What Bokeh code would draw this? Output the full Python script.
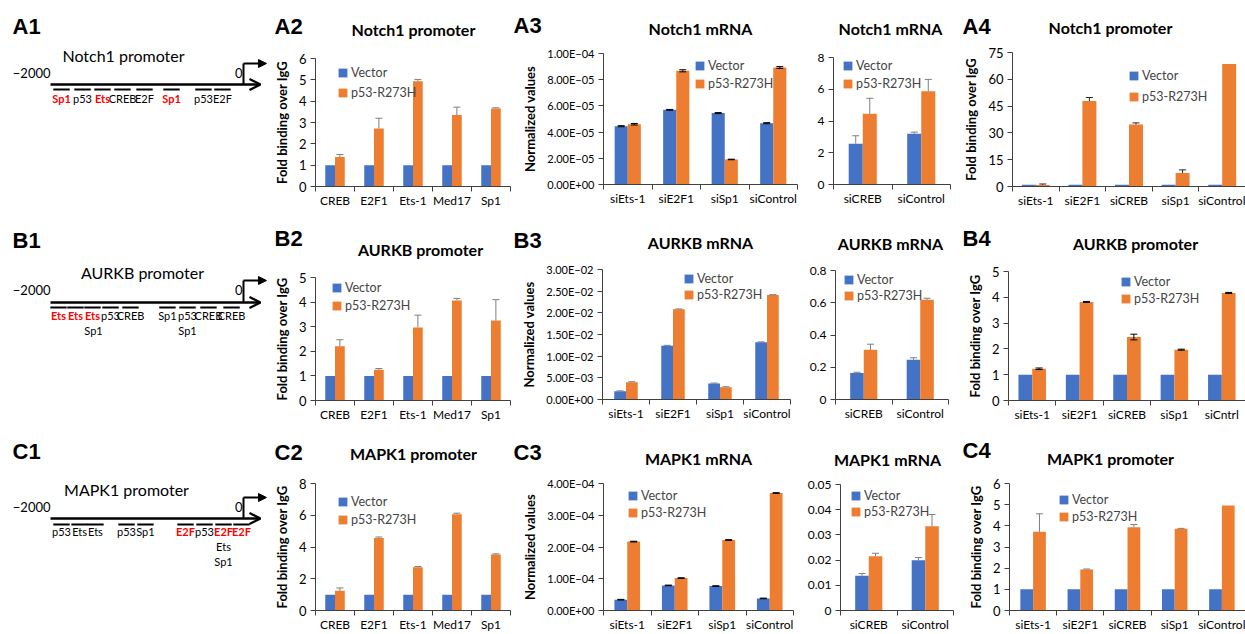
from bokeh.plotting import figure
from bokeh.layouts import column, row
from bokeh.models import (ColumnDataSource, Range1d, FixedTicker, Whisker, TeeHead, Legend,
                          LegendItem, Arrow, OpenHead, NormalHead, CustomJSTickFormatter)
from bokeh.transform import dodge
from bokeh.core.properties import value
from bokeh.embed import file_html
from bokeh.resources import INLINE

BLUE = "#4472C4"
ORANGE = "#ED7D31"
FONT = "Lato"
HFONT = "Liberation Sans"
AXC = "#404040"

# ---------------- data ----------------
PROMO_CATS = ["CREB", "E2F1", "Ets-1", "Med17", "Sp1"]
MRNA4_CATS = ["siEts-1", "siE2F1", "siSp1", "siControl"]
MRNA2_CATS = ["siCREB", "siControl"]
SI5_CATS = ["siEts-1", "siE2F1", "siCREB", "siSp1", "siControl"]
SI5B_CATS = ["siEts-1", "siE2F1", "siCREB", "siSp1", "siCntrl"]

A2_vector = [1, 1, 1, 1, 1]
A2_mutant = [1.38, 2.72, 4.93, 3.35, 3.66]
A2_mutant_err = [0.12, 0.48, 0.09, 0.37, 0.03]

A3L_vector = [4.45e-5, 5.70e-5, 5.45e-5, 4.68e-5]
A3L_mutant = [4.60e-5, 8.68e-5, 1.91e-5, 8.93e-5]
A3L_vector_err = [4e-7, 3e-7, 4e-7, 4e-7]
A3L_mutant_err = [6e-7, 8e-7, 2e-7, 7e-7]

A3R_vector = [2.57, 3.19]
A3R_mutant = [4.45, 5.87]
A3R_vector_err = [0.50, 0.11]
A3R_mutant_err = [0.98, 0.75]

A4_vector = [1, 1, 1, 1, 1]
A4_mutant = [0.9, 47.8, 34.7, 7.5, 68.6]
A4_mutant_err = [0.5, 2.0, 0.9, 1.8, 0]

B2_vector = [1, 1, 1, 1, 1]
B2_mutant = [2.21, 1.25, 2.97, 4.07, 3.25]
B2_mutant_err = [0.26, 0.05, 0.50, 0.08, 0.85]

B3L_vector = [1.9e-3, 1.24e-2, 3.7e-3, 1.32e-2]
B3L_mutant = [4.0e-3, 2.08e-2, 2.85e-3, 2.41e-2]
B3L_vector_err = [1e-4, 1e-4, 1e-4, 1e-4]
B3L_mutant_err = [1e-4, 1e-4, 1e-4, 1e-4]

B3R_vector = [0.165, 0.247]
B3R_mutant = [0.308, 0.618]
B3R_vector_err = [0.004, 0.012]
B3R_mutant_err = [0.035, 0.010]

B4_vector = [1, 1, 1, 1, 1]
B4_mutant = [1.23, 3.82, 2.46, 1.97, 4.17]
B4_mutant_err = [0.03, 0.02, 0.11, 0.02, 0.02]

C2_vector = [1, 1, 1, 1, 1]
C2_mutant = [1.24, 4.57, 2.72, 6.07, 3.52]
C2_mutant_err = [0.18, 0.06, 0.05, 0.06, 0.05]

C3L_vector = [3.4e-5, 7.9e-5, 7.7e-5, 3.8e-5]
C3L_mutant = [2.17e-4, 1.02e-4, 2.22e-4, 3.70e-4]
C3L_vector_err = [1e-6, 1e-6, 1e-6, 1e-6]
C3L_mutant_err = [1.2e-6, 1.2e-6, 1.2e-6, 1.2e-6]

C3R_vector = [0.0138, 0.0199]
C3R_mutant = [0.0215, 0.0334]
C3R_vector_err = [0.0009, 0.0011]
C3R_mutant_err = [0.0012, 0.0047]

C4_vector = [1, 1, 1, 1, 1]
C4_mutant = [3.72, 1.94, 3.93, 3.86, 4.96]
C4_mutant_err = [0.85, 0.02, 0.13, 0.02, 0]

# promoter schematics (positions in bp relative to TSS)
A1_sites = ["Sp1", "p53", "Ets", "CREB", "E2F", "Sp1", "p53", "E2F"]
A1_pos = [-1886, -1668, -1461, -1254, -1026, -746, -415, -218]
A1_red = [True, False, True, False, False, True, False, False]
A1_row = [0, 0, 0, 0, 0, 0, 0, 0]

B1_sites = ["Ets", "Ets", "Ets", "p53", "CREB", "Sp1", "Sp1", "p53", "CREB", "CREB", "Sp1"]
B1_pos = [-1917, -1741, -1565, -1378, -1171, -1554, -788, -580, -363, -124, -580]
B1_red = [True, True, True, False, False, False, False, False, False, False, False]
B1_row = [0, 0, 0, 0, 0, 1, 0, 0, 0, 0, 1]

C1_sites = ["p53", "Ets", "Ets", "p53", "Sp1", "E2F", "p53", "E2F", "E2F", "Ets", "Sp1"]
C1_pos = [-1886, -1699, -1534, -1212, -1016, -601, -404, -207, -21, -207, -207]
C1_red = [False, False, False, False, False, True, False, True, True, False, False]
C1_row = [0, 0, 0, 0, 0, 0, 0, 0, 0, 1, 2]

# panel headings
A_titles = ["Notch1 promoter", "Notch1 mRNA", "Notch1 mRNA", "Notch1 promoter"]
B_titles = ["AURKB promoter", "AURKB mRNA", "AURKB mRNA", "AURKB promoter"]
C_titles = ["MAPK1 promoter", "MAPK1 mRNA", "MAPK1 mRNA", "MAPK1 promoter"]
A_labels = ["A1", "A2", "A3", "A4"]
B_labels = ["B1", "B2", "B3", "B4"]
C_labels = ["C1", "C2", "C3", "C4"]

EXP_CODE = """
const s = tick.toExponential(2);
const parts = s.split('e');
let e = parts[1];
const sign = e[0] === '-' ? '\u2212' : '+';
e = e.replace('-', '').replace('+', '');
if (e.length < 2) { e = '0' + e; }
return parts[0] + 'E' + sign + e;
"""
NUM_CODE = "return String(Math.round(tick * 1e6) / 1e6);"

TOTAL_W = 1245


def base_fig(w, h, **kw):
    p = figure(width=w, height=h, toolbar_location=None, output_backend="svg",
               outline_line_color=None, frame_align=False, **kw)
    return p


def header(h, top, labels, label_xy, titles, title_xy):
    p = base_fig(TOTAL_W, h, x_range=Range1d(0, TOTAL_W), y_range=Range1d(h, 0),
                 x_axis_location=None, y_axis_location=None, min_border=0)
    p.grid.visible = False
    p.text(x=[q[0] for q in label_xy], y=[q[1] - top for q in label_xy], text=labels,
           text_font=value(HFONT), text_font_size="22px", text_font_style="bold",
           text_baseline="middle", text_align="left", text_color="black")
    p.text(x=[q[0] for q in title_xy], y=[q[1] - top for q in title_xy], text=titles,
           text_font=value(FONT), text_font_size="16px", text_font_style="bold",
           text_baseline="middle", text_align="center", text_color="black")
    return p


def chart(col_left, row_top, w, h, frame, cats, vec, mut, vec_err, mut_err, y_end, y_step,
          ylabel, exp_fmt, bw, err_mode, err_color, leg,
          ytick_size="13px", ylabel_size="13px"):
    fl, fr, ft, fb = frame
    n = len(cats)
    p = base_fig(w, h, min_border_left=fl - col_left, min_border_right=col_left + w - fr,
                 min_border_top=ft - row_top, min_border_bottom=row_top + h - fb,
                 x_range=Range1d(-0.5, n - 0.5), y_range=Range1d(0, y_end))
    p.xgrid.visible = False
    p.ygrid.visible = False
    src = ColumnDataSource(dict(x=list(range(n)), vec=vec, mut=mut))
    rv = p.vbar(x=dodge("x", -bw / 2), top="vec", width=bw, source=src,
                fill_color=BLUE, line_color=None)
    rm = p.vbar(x=dodge("x", bw / 2), top="mut", width=bw, source=src,
                fill_color=ORANGE, line_color=None)
    for vals, errs, off in ((vec, vec_err, -bw / 2), (mut, mut_err, bw / 2)):
        if errs is None:
            continue
        idx = [i for i in range(n) if errs[i] > 0]
        es = ColumnDataSource(dict(
            x=idx,
            hi=[vals[i] + errs[i] for i in idx],
            lo=[vals[i] - errs[i] if err_mode == "both" else vals[i] for i in idx]))
        wk = Whisker(source=es, base=dodge("x", off), upper="hi", lower="lo",
                     dimension="height", line_color=err_color, line_width=1,
                     upper_head=TeeHead(size=7, line_color=err_color, line_width=1),
                     lower_head=(TeeHead(size=7, line_color=err_color, line_width=1)
                                 if err_mode == "both" else None),
                     level="overlay")
        p.add_layout(wk)

    xa = p.xaxis[0]
    xa.ticker = FixedTicker(ticks=list(range(n)), minor_ticks=[i - 0.5 for i in range(n + 1)])
    xa.formatter = CustomJSTickFormatter(args=dict(cats=cats), code="""
const i = Math.round(tick);
return (i >= 0 && i < cats.length) ? cats[i] : '';""")
    xa.major_tick_out = 0
    xa.major_tick_in = 0
    xa.minor_tick_out = 5
    xa.minor_tick_in = 0
    xa.major_label_standoff = 1
    xa.major_label_text_font = FONT
    xa.major_label_text_font_size = "12px"
    xa.major_label_text_color = "black"
    xa.axis_line_color = AXC
    xa.minor_tick_line_color = AXC

    ya = p.yaxis[0]
    nt = int(round(y_end / y_step))
    ya.ticker = FixedTicker(ticks=[i * y_step for i in range(nt + 1)], minor_ticks=[])
    ya.formatter = CustomJSTickFormatter(code=EXP_CODE if exp_fmt else NUM_CODE)
    ya.major_tick_out = 5
    ya.major_tick_in = 0
    ya.minor_tick_out = 0
    ya.minor_tick_in = 0
    ya.major_label_standoff = 4
    ya.major_label_text_font = FONT
    ya.major_label_text_font_size = ytick_size
    ya.major_label_text_color = "black"
    ya.axis_line_color = AXC
    ya.major_tick_line_color = AXC
    if ylabel:
        ya.axis_label = ylabel
        ya.axis_label_text_font = FONT
        ya.axis_label_text_font_style = "bold"
        ya.axis_label_text_font_size = ylabel_size
        ya.axis_label_standoff = 6
        ya.axis_label_text_color = "black"

    gx, c1, c2 = leg
    lh = 15
    legend = Legend(items=[LegendItem(label="Vector", renderers=[rv]),
                           LegendItem(label="p53-R273H", renderers=[rm])],
                    location=(gx - fl, fb - (c2 + lh / 2)), orientation="vertical",
                    spacing=max(0, int(c2 - c1 - lh)), padding=0, margin=0,
                    glyph_width=11, glyph_height=11, label_height=lh, label_standoff=3,
                    label_text_font=FONT, label_text_font_size="12.5px",
                    border_line_color=None, background_fill_alpha=0)
    p.add_layout(legend)
    return p


def diagram(w, h, top, title, title_xy, sites, pos, red, lvl,
            minus_y, line_y, bent_y, seg_y, lab_y):
    # x in bp: TSS (0) at 243 px, 0.0965 px per bp
    p = base_fig(w, h, x_range=Range1d(-243 / 0.0965, (w - 243) / 0.0965),
                 y_range=Range1d(h, 0), x_axis_location=None, y_axis_location=None,
                 min_border=0)
    p.grid.visible = False
    p.text(x=[(title_xy[0] - 243) / 0.0965], y=[title_xy[1] - top], text=[title],
           text_font=value(FONT), text_font_size="16px",
           text_baseline="middle", text_align="center", text_color="black")
    p.text(x=[-2000], y=[minus_y - top], text=["\u22122000"], text_font=value(FONT),
           text_font_size="13px", text_baseline="middle", text_align="right", text_color="black")
    p.text(x=[0], y=[minus_y - top], text=["0"], text_font=value(FONT), x_offset=-1,
           text_font_size="13px", text_baseline="middle", text_align="right", text_color="black")
    p.add_layout(Arrow(x_start=-2000, y_start=line_y - top, x_end=176, y_end=line_y - top,
                       line_width=2.5, end=OpenHead(size=11, line_width=2.2)))
    p.segment(x0=[0], y0=[line_y - top], x1=[0], y1=[bent_y - top], line_width=2,
              line_color="black")
    p.add_layout(Arrow(x_start=0, y_start=bent_y - top, x_end=238, y_end=bent_y - top,
                       line_width=2,
                       end=NormalHead(size=8, fill_color="black", line_color="black")))
    seg_x = [q for q, r in zip(pos, lvl) if r == 0]
    p.segment(x0=[q - 85 for q in seg_x], x1=[q + 85 for q in seg_x],
              y0=[seg_y - top] * len(seg_x), y1=[seg_y - top] * len(seg_x),
              line_width=2, line_color="black")
    for is_red in (False, True):
        ii = [i for i in range(len(sites)) if red[i] == is_red]
        p.text(x=[pos[i] for i in ii], y=[lab_y - top + 15 * lvl[i] for i in ii],
               text=[sites[i] for i in ii], text_font=value(FONT), text_font_size="11px",
               text_font_style="bold" if is_red else "normal",
               text_color="#FF0000" if is_red else "black",
               text_baseline="middle", text_align="center")
    return p


# ---------------- layout ----------------
COLS = [0, 270, 511, 800, 960]
WIDTHS = [270, 241, 289, 160, 285]
FOLD = "Fold binding over IgG"
NORM = "Normalized values"

# Row A: header 0..44, charts 44..210
hA = header(44, 0, A_labels, [(12, 26), (274, 26), (513, 25), (962, 26)],
            A_titles, [(413, 29), (700, 28), (890, 28), (1110, 27)])
RA, HA = 44, 166
a1 = diagram(WIDTHS[0], HA, RA, "Notch1 promoter", (123, 55),
             A1_sites, A1_pos, A1_red, A1_row, 72, 84, 63, 89, 98)
a2 = chart(COLS[1], RA, WIDTHS[1], HA, (313, 510, 58, 187), PROMO_CATS,
           A2_vector, A2_mutant, None, A2_mutant_err, 6, 1, FOLD, False, 0.25, "up", "#7f7f7f",
           (335, 73, 93))
a3l = chart(COLS[2], RA, WIDTHS[2], HA, (603, 797, 53, 184), MRNA4_CATS,
            A3L_vector, A3L_mutant, A3L_vector_err, A3L_mutant_err, 1e-4, 2e-5, NORM, True,
            0.27, "both", "black", (694, 65, 83), ytick_size="11px")
a3r = chart(COLS[3], RA, WIDTHS[3], HA, (833, 950, 57, 184), MRNA2_CATS,
            A3R_vector, A3R_mutant, A3R_vector_err, A3R_mutant_err, 8, 2, None, False,
            0.24, "up", "#7f7f7f", (842, 65, 83), ytick_size="12px")
a4 = chart(COLS[4], RA, WIDTHS[4], HA, (1012, 1245, 52, 188), SI5_CATS,
           A4_vector, A4_mutant, None, A4_mutant_err, 75, 15, FOLD, False, 0.3, "up", "#262626",
           (1128, 77, 98))

# Row B: header 210..260, charts 260..424
hB = header(50, 210, B_labels, [(12, 240), (274, 238), (513, 240), (962, 238)],
            B_titles, [(420, 249), (700, 242), (890, 243), (1135, 243)])
RB, HB = 260, 164
b1 = diagram(WIDTHS[0], HB, RB, "AURKB promoter", (142, 272),
             B1_sites, B1_pos, B1_red, B1_row, 289, 302, 280, 307, 315)
b2 = chart(COLS[1], RB, WIDTHS[1], HB, (313, 510, 277, 402), PROMO_CATS,
           B2_vector, B2_mutant, None, B2_mutant_err, 5, 1, FOLD, False, 0.25, "up", "#7f7f7f",
           (329, 289, 307))
b3l = chart(COLS[2], RB, WIDTHS[2], HB, (602, 790, 269, 399), MRNA4_CATS,
            B3L_vector, B3L_mutant, B3L_vector_err, B3L_mutant_err, 3e-2, 5e-3, NORM, True,
            0.25, "up", "#7f7f7f", (683, 278, 294), ytick_size="11px")
b3r = chart(COLS[3], RB, WIDTHS[3], HB, (835, 948, 270, 399), MRNA2_CATS,
            B3R_vector, B3R_mutant, B3R_vector_err, B3R_mutant_err, 0.8, 0.2, None, False,
            0.24, "up", "#7f7f7f", (843, 279, 295), ytick_size="12px")
b4 = chart(COLS[4], RB, WIDTHS[4], HB, (1008, 1245, 271, 401), SI5B_CATS,
           B4_vector, B4_mutant, None, B4_mutant_err, 5, 1, FOLD, False, 0.29, "both", "black",
           (1120, 282, 299))

# Row C: header 424..472, charts 472..634
hC = header(48, 424, C_labels, [(12, 451), (274, 452), (513, 452), (962, 450)],
            C_titles, [(413, 453), (698, 458), (887, 459), (1110, 458)])
RC, HC = 472, 162
c1 = diagram(WIDTHS[0], HC, RC, "MAPK1 promoter", (126, 489),
             C1_sites, C1_pos, C1_red, C1_row, 506, 518, 497, 524, 531)
c2 = chart(COLS[1], RC, WIDTHS[1], HC, (313, 510, 483, 611), PROMO_CATS,
           C2_vector, C2_mutant, None, C2_mutant_err, 8, 2, FOLD, False, 0.25, "up", "#7f7f7f",
           (335, 502, 520))
c3l = chart(COLS[2], RC, WIDTHS[2], HC, (603, 793, 483, 612), MRNA4_CATS,
            C3L_vector, C3L_mutant, C3L_vector_err, C3L_mutant_err, 4e-4, 1e-4, NORM, True,
            0.27, "both", "black", (627, 497, 514), ytick_size="11px")
c3r = chart(COLS[3], RC, WIDTHS[3], HC, (840, 953, 484, 612), MRNA2_CATS,
            C3R_vector, C3R_mutant, C3R_vector_err, C3R_mutant_err, 0.05, 0.01, None, False,
            0.24, "up", "#7f7f7f", (850, 497, 513), ytick_size="12px")
c4 = chart(COLS[4], RC, WIDTHS[4], HC, (1009, 1245, 483, 612), SI5_CATS,
           C4_vector, C4_mutant, None, C4_mutant_err, 6, 1, FOLD, False, 0.27, "up", "#7f7f7f",
           (1058, 501, 518))

layout = column(hA, row(a1, a2, a3l, a3r, a4, spacing=0),
                hB, row(b1, b2, b3l, b3r, b4, spacing=0),
                hC, row(c1, c2, c3l, c3r, c4, spacing=0), spacing=0)

open("out.html", "w").write(file_html(layout, INLINE))
